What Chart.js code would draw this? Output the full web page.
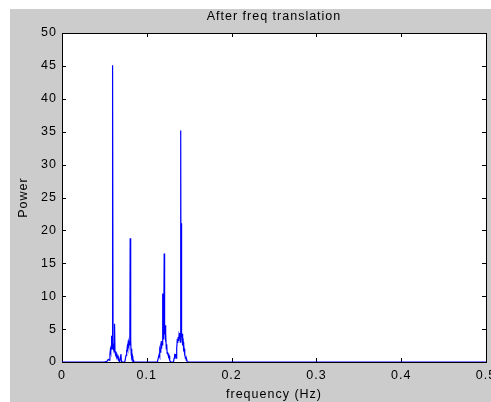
<!DOCTYPE html>
<html>
<head>
<meta charset="utf-8">
<script src="https://cdn.jsdelivr.net/npm/chart.js@4"></script>
<style>
  html, body { margin: 0; padding: 0; background: #fff; overflow: hidden; }
</style>
</head>
<body>
<canvas id="c" width="491" height="402"></canvas>
<script>
// spectrum after frequency translation (Hz / power)
const freq = [
  0, 0.0500,
  0.0530, 0.0545, 0.0555, 0.0565, 0.0570, 0.0575, 0.0580, 0.0585, 0.0590, 0.0595,
  0.0598, 0.0602, 0.0606, 0.0610, 0.0614, 0.0618, 0.0621, 0.0625, 0.0630, 0.0635,
  0.0640, 0.0645, 0.0650, 0.0655, 0.0660, 0.0665, 0.0670, 0.0675, 0.0680, 0.0690,
  0.0695, 0.0700, 0.0705,
  0.0740, 0.0748, 0.0755, 0.0760, 0.0765, 0.0770, 0.0775, 0.0780, 0.0785, 0.0790,
  0.0795, 0.0800, 0.0804, 0.0808, 0.0812, 0.0816, 0.0820, 0.0825, 0.0830, 0.0835,
  0.0840, 0.0845,
  0.1125, 0.1135, 0.1145, 0.1150, 0.1155, 0.1160, 0.1165, 0.1170, 0.1175, 0.1180,
  0.1185, 0.1190, 0.1195, 0.1200, 0.1205, 0.1210, 0.1215, 0.1220, 0.1225, 0.1230,
  0.1235, 0.1240, 0.1245, 0.1250, 0.1255, 0.1260, 0.1265, 0.1270, 0.1275, 0.1280,
  0.1315, 0.1322, 0.1328, 0.1335, 0.1340, 0.1345, 0.1350, 0.1355, 0.1360, 0.1365,
  0.1370, 0.1375, 0.1380, 0.1385, 0.1390, 0.1395, 0.1400, 0.1404, 0.1408, 0.1412,
  0.1416, 0.1420, 0.1425, 0.1430, 0.1435, 0.1440, 0.1445, 0.1450, 0.1455, 0.1460,
  0.1465, 0.1470, 0.1478,
  0.5
];
const power = [
  0, 0,
  0.1, 0.4, 0.3, 1.2, 1.8, 1.5, 2.4, 4.0, 2.0, 3.2,
  45.1, 2.2, 2.8, 1.9, 2.5, 1.5, 5.8, 1.6, 1.4, 1.1,
  1.3, 0.8, 1.0, 0.5, 0.7, 0.3, 0.4, 0.1, 0.0, 0.9,
  1.2, 0.2, 0.0,
  0.0, 0.5, 1.0, 1.8, 1.4, 2.3, 2.0, 2.8, 2.4, 3.0,
  2.6, 3.3, 18.8, 2.9, 3.4, 1.2, 2.0, 0.6, 0.9, 0.2,
  0.3, 0.0,
  0.0, 0.6, 1.1, 0.8, 1.9, 1.5, 2.4, 2.1, 3.2, 2.6,
  4.0, 10.4, 3.5, 4.8, 16.5, 4.2, 5.6, 3.1, 4.3, 2.0,
  2.7, 1.3, 1.5, 1.1, 1.3, 0.8, 0.9, 0.3, 0.1, 0.0,
  0.0, 0.6, 1.0, 0.8, 1.2, 0.6, 1.1, 2.0, 3.5, 2.9,
  3.8, 3.2, 4.1, 3.6, 4.4, 3.0, 35.2, 4.0, 21.1, 4.5,
  3.6, 4.3, 2.5, 3.0, 1.6, 2.0, 1.0, 1.2, 0.6, 0.8,
  0.3, 0.4, 0.0,
  0
];
const xTicks = [0, 0.1, 0.2, 0.3, 0.4, 0.5];
const yTicks = [0, 5, 10, 15, 20, 25, 30, 35, 40, 45, 50];

const FONT = "'Liberation Sans', Arial, sans-serif";
const TICK_LEN = 4;

// matlab-ish figure: grey frame, white axes, inward ticks on all four sides
const matlabFrame = {
  id: 'matlabFrame',
  beforeDraw(chart) {
    const { ctx, chartArea: a } = chart;
    ctx.save();
    ctx.fillStyle = '#cccccc';
    ctx.fillRect(10, 9, chart.width - 10, chart.height - 9);
    ctx.fillStyle = '#ffffff';
    ctx.fillRect(a.left, a.top, a.right - a.left, a.bottom - a.top);
    ctx.restore();
    // wide-spaced matlab lettering for the tick labels too
    ctx.letterSpacing = '1px';
  },
  beforeDatasetsDraw(chart) {
    const { ctx, chartArea: a, scales } = chart;
    ctx.save();
    ctx.strokeStyle = '#000';
    ctx.lineWidth = 1;
    ctx.strokeRect(a.left + 0.5, a.top + 0.5, a.right - a.left, a.bottom - a.top);
    ctx.beginPath();
    xTicks.forEach(v => {
      const x = Math.round(scales.x.getPixelForValue(v)) + 0.5;
      ctx.moveTo(x, a.bottom); ctx.lineTo(x, a.bottom - TICK_LEN);
      ctx.moveTo(x, a.top); ctx.lineTo(x, a.top + TICK_LEN);
    });
    yTicks.forEach(v => {
      const y = Math.round(scales.y.getPixelForValue(v)) + 0.5;
      ctx.moveTo(a.left, y); ctx.lineTo(a.left + TICK_LEN, y);
      ctx.moveTo(a.right, y); ctx.lineTo(a.right - TICK_LEN, y);
    });
    ctx.stroke();
    ctx.restore();
  },
  afterDraw(chart) {
    const { ctx, chartArea: a } = chart;
    ctx.save();
    ctx.letterSpacing = '1px';
    ctx.fillStyle = '#000';
    ctx.font = '12.5px ' + FONT;
    ctx.textAlign = 'center';
    ctx.textBaseline = 'alphabetic';
    ctx.fillText('After freq translation', (a.left + a.right) / 2, 20);
    ctx.fillText('frequency (Hz)', (a.left + a.right) / 2, 398);
    ctx.translate(27, (a.top + a.bottom) / 2);
    ctx.rotate(-Math.PI / 2);
    ctx.fillText('Power', 0, 0);
    ctx.restore();
  }
};

new Chart(document.getElementById('c'), {
  type: 'line',
  data: {
    datasets: [{
      label: 'Power',
      data: freq.map((f, i) => ({ x: f, y: power[i] })),
      borderColor: '#0000ff',
      borderWidth: 1.2,
      pointRadius: 0,
      tension: 0,
      fill: false
    }]
  },
  options: {
    responsive: false,
    animation: false,
    layout: { padding: { left: 10, top: 33, right: 5, bottom: 0 } },
    plugins: { legend: { display: false }, tooltip: { enabled: false } },
    scales: {
      x: {
        type: 'linear',
        min: 0,
        max: 0.5,
        grid: { display: false, drawTicks: false },
        border: { display: false },
        afterBuildTicks: s => { s.ticks = xTicks.map(v => ({ value: v })); },
        ticks: {
          color: '#000',
          padding: 6,
          maxRotation: 0,
          font: { family: FONT, size: 12.5 },
          callback: v => String(v)
        },
        afterFit: s => { s.height = 40; s.paddingLeft = 0; s.paddingRight = 0; }
      },
      y: {
        min: 0,
        max: 50,
        grid: { display: false, drawTicks: false },
        border: { display: false },
        afterBuildTicks: s => { s.ticks = yTicks.map(v => ({ value: v })); },
        ticks: {
          color: '#000',
          padding: 5,
          font: { family: FONT, size: 12.5 },
          callback: v => String(v)
        },
        afterFit: s => { s.width = 52; s.paddingTop = 0; s.paddingBottom = 0; }
      }
    }
  },
  plugins: [matlabFrame]
});
</script>
</body>
</html>
